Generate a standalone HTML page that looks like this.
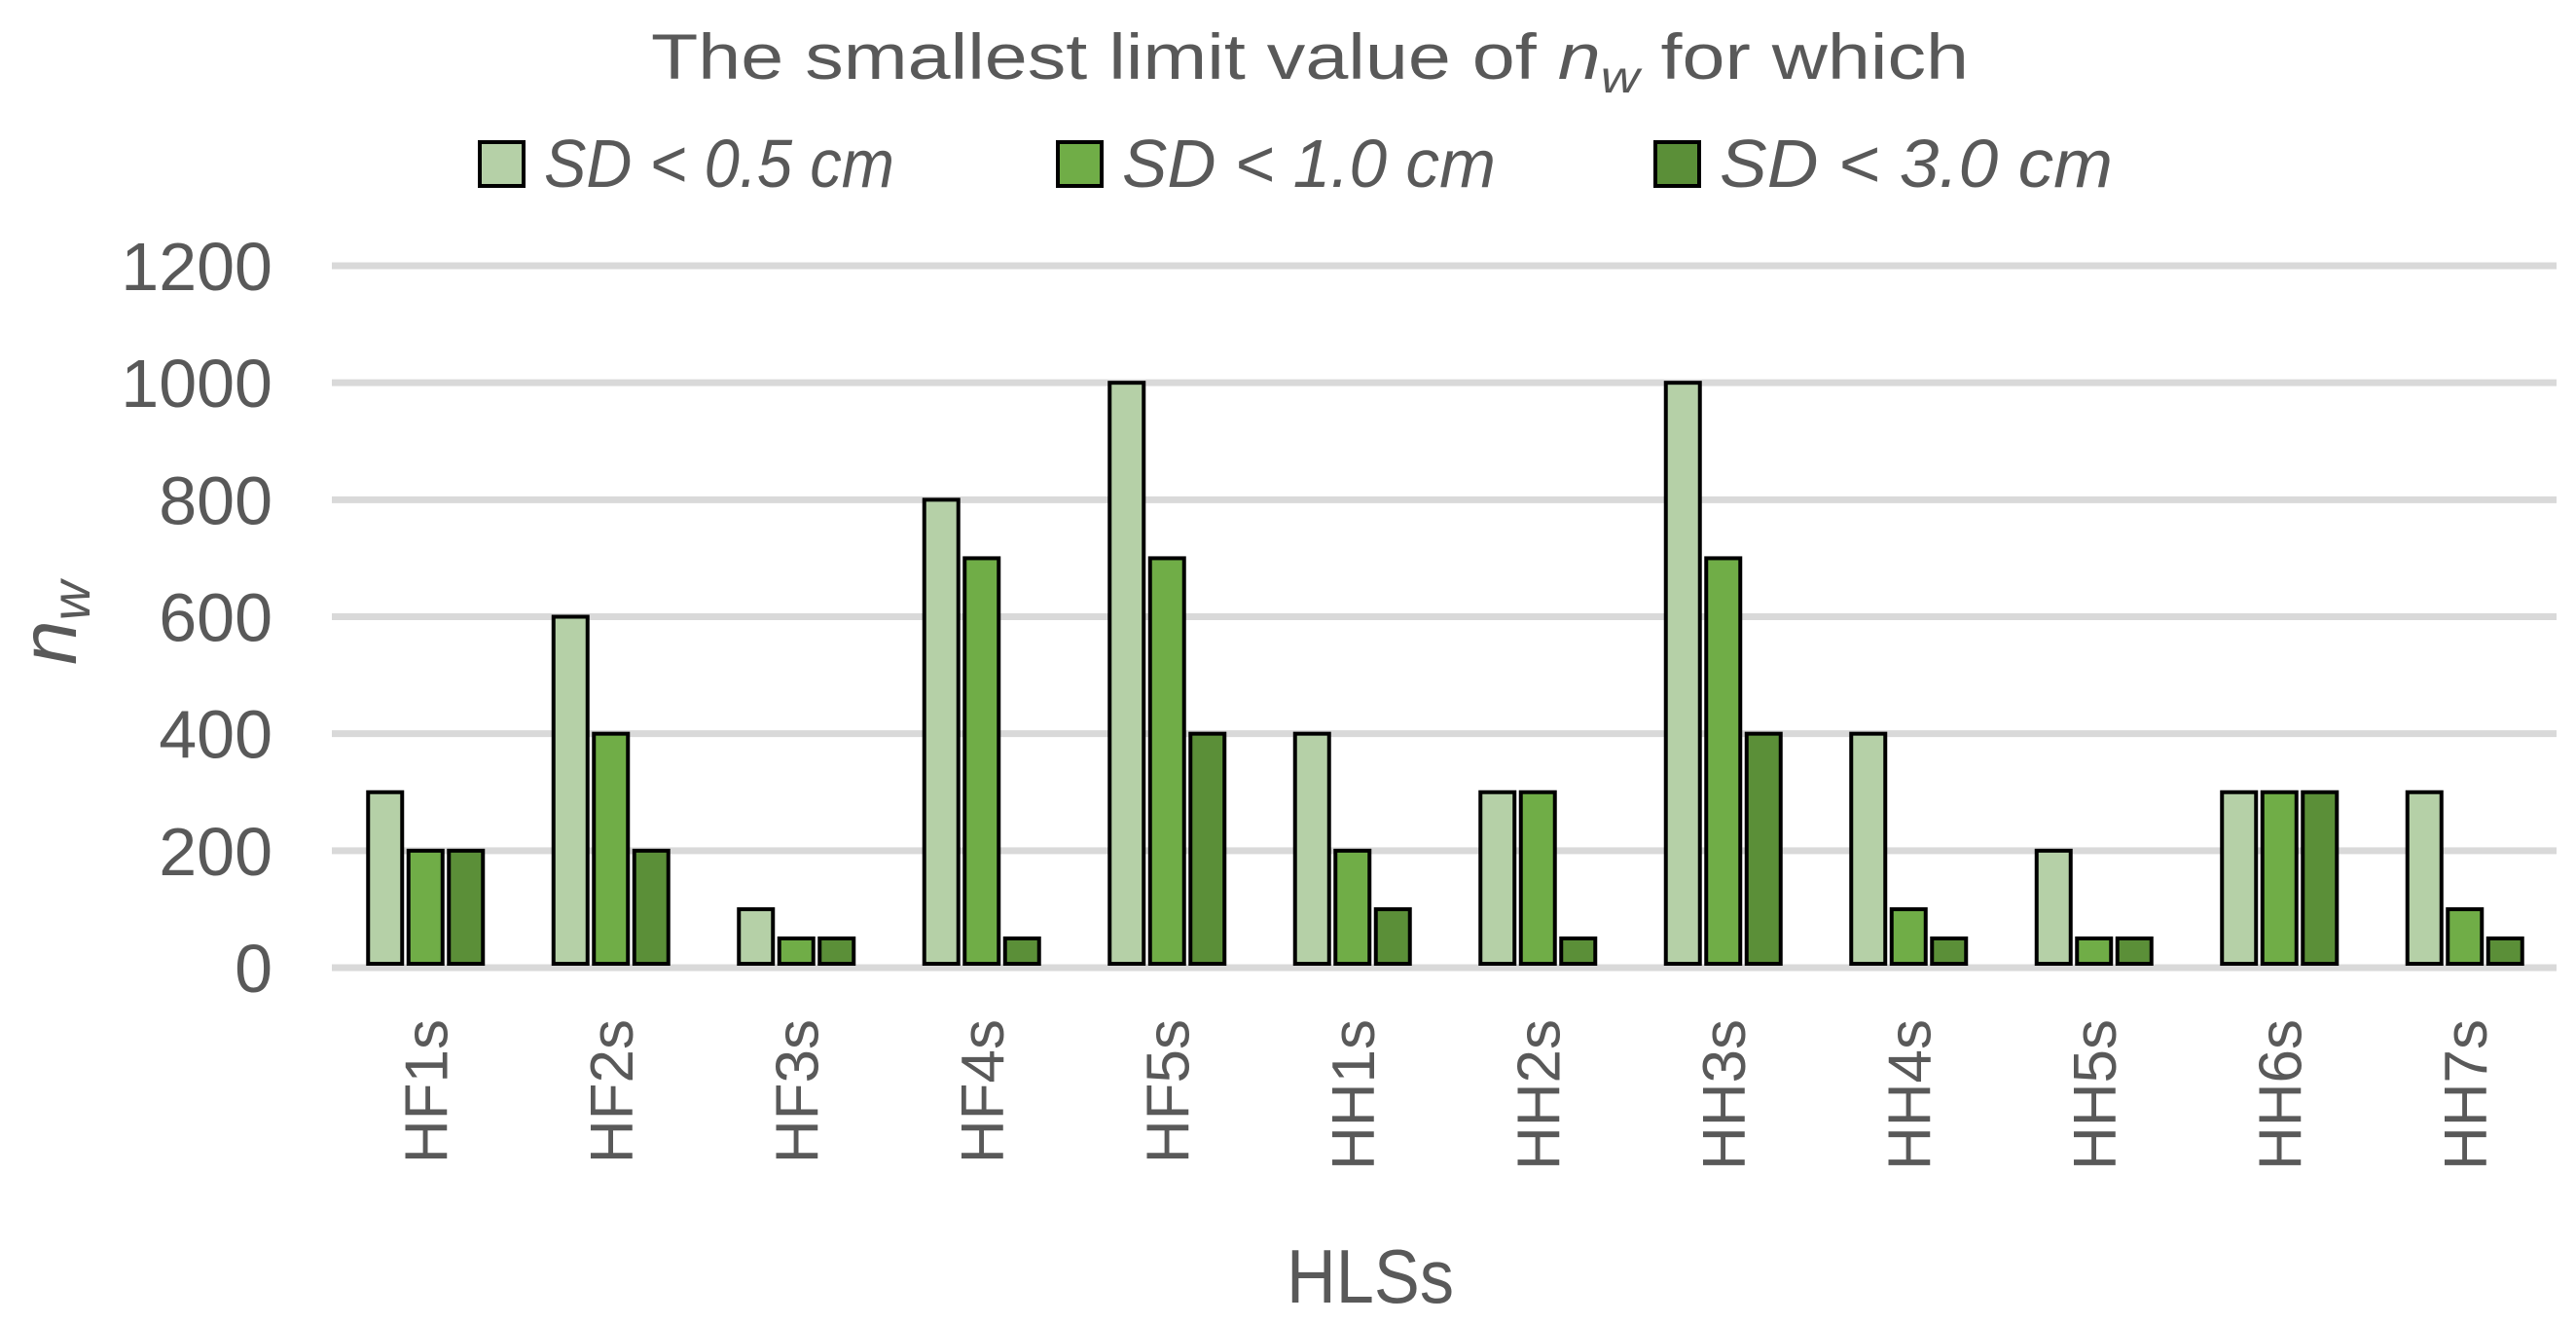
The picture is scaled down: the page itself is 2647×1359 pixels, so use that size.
<!DOCTYPE html>
<html><head><meta charset="utf-8"><style>
html,body{margin:0;padding:0;background:#fff;}
svg{display:block;}
text{font-family:"Liberation Sans",sans-serif;fill:#595959;}
</style></head><body>
<svg id="chart" width="2647" height="1359" viewBox="0 0 2647 1359" xmlns="http://www.w3.org/2000/svg">
<text x="1346" y="81" text-anchor="middle" font-size="66" textLength="1354" lengthAdjust="spacingAndGlyphs">The smallest limit value of <tspan font-style="italic">n<tspan font-size="46" dy="14">w</tspan></tspan><tspan dy="-14"> for which</tspan></text>
<g id="legend"></g>
<g id="grid"></g>
<g id="yticks"></g>
<g id="bars"></g>
<g id="xticks"></g>
<text transform="translate(78,640) rotate(-90)" text-anchor="middle" font-size="82" font-style="italic">n<tspan font-size="56" dy="14">w</tspan></text>
<text x="1408" y="1338" text-anchor="middle" font-size="78" textLength="172" lengthAdjust="spacingAndGlyphs">HLSs</text>
</svg>
<script>
const categories = ["HF1s","HF2s","HF3s","HF4s","HF5s","HH1s","HH2s","HH3s","HH4s","HH5s","HH6s","HH7s"];
const seriesNames = ["SD < 0.5 cm","SD < 1.0 cm","SD < 3.0 cm"];
const sd05 = [300,600,100,800,1000,400,300,1000,400,200,300,300];
const sd10 = [200,400,50,700,700,200,300,700,100,50,300,100];
const sd30 = [200,200,50,50,400,100,50,400,50,50,300,50];
const yTicks = [0,200,400,600,800,1000,1200];

const NS = "http://www.w3.org/2000/svg";
const colors = ["#b5d0a7","#70ad47","#5b8f38"];
const series = [sd05, sd10, sd30];
const plotL = 341, plotR = 2627, y0 = 994, yTop = 273, yMax = 1200;
const catW = (plotR - plotL) / categories.length;
function yScale(v){ return y0 - (v / yMax) * (y0 - yTop); }
function xCenter(i){ return plotL + catW * (i + 0.5); }
function mk(tag, attrs, parent){ const e = document.createElementNS(NS, tag); for (const k in attrs) e.setAttribute(k, attrs[k]); parent.appendChild(e); return e; }

const grid = document.getElementById('grid');
const yt = document.getElementById('yticks');
yTicks.forEach(v => {
  const l = mk('line', {x1: plotL, x2: plotR, y1: yScale(v), y2: yScale(v), stroke: '#d9d9d9', 'stroke-width': 7}, grid);
  
  
  const t = mk('text', {x: 280, y: yScale(v) + 25, 'text-anchor': 'end', 'font-size': 70}, yt);
  t.textContent = v;
  
  
});

const bars = document.getElementById('bars');
const bw = 35, step = 41.5;
categories.forEach((c, i) => {
  const cx = xCenter(i);
  series.forEach((s, j) => {
    const x = cx - 58 + j * step;
    const top = yScale(s[i]);
    const r = mk('rect', {x: x, y: top, width: bw, height: Math.max(0, y0 - 4 - top), fill: colors[j], stroke: '#000', 'stroke-width': 4}, bars);
    
    
  });
  const t = mk('text', {transform: 'translate(' + (cx + 23) + ',1047) rotate(-90)', 'text-anchor': 'end', 'font-size': 62}, document.getElementById('xticks'));
  t.textContent = c;
  
  
});

const legend = document.getElementById('legend');
const legBox = [491, 1085, 1699];
const legTxtW = [360, 384, 404];
seriesNames.forEach((n, j) => {
  const r = mk('rect', {x: legBox[j] + 2, y: 146, width: 45, height: 45, fill: colors[j], stroke: '#000', 'stroke-width': 4}, legend);
  
  
  const t = mk('text', {x: legBox[j] + 68, y: 192, 'font-size': 70, 'font-style': 'italic', textLength: legTxtW[j], lengthAdjust: 'spacingAndGlyphs'}, legend);
  t.textContent = n;
  
  
});
</script>
</body></html>
